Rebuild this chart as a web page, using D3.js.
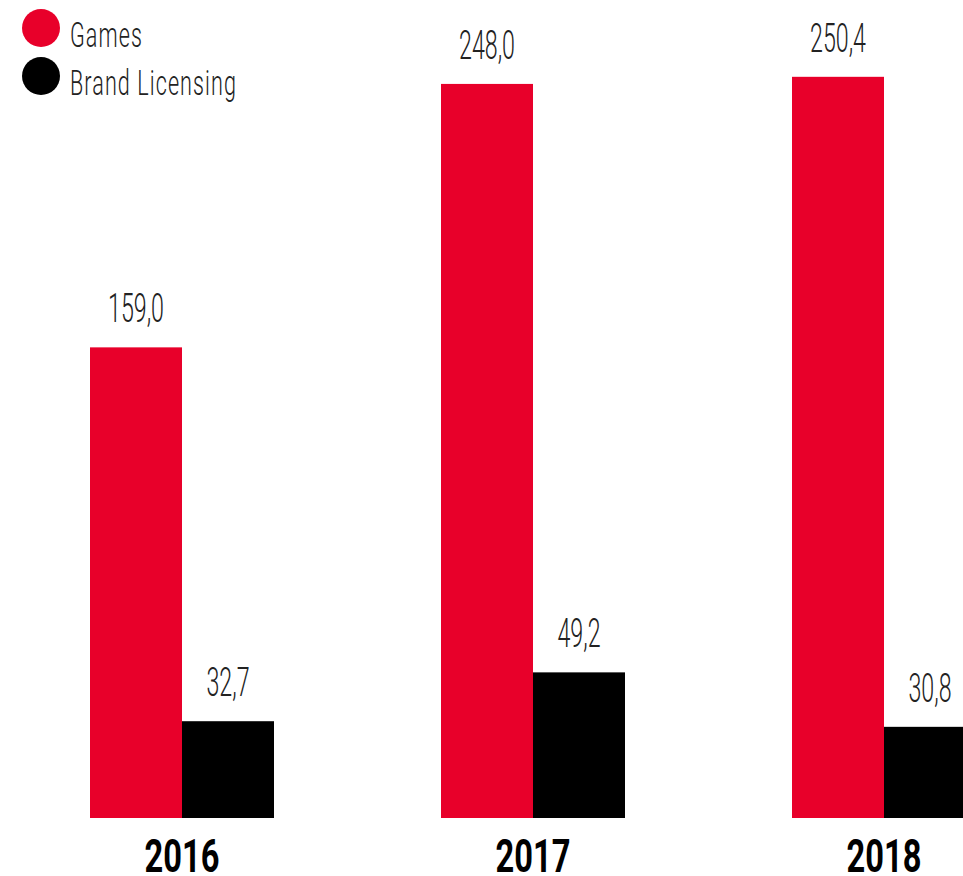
<!DOCTYPE html>
<html>
<head>
<meta charset="utf-8">
<script src="https://cdn.jsdelivr.net/npm/d3@7"></script>
<style>
	body { margin: 0; background: #fff; }
	svg { display: block; }
</style>
</head>
<body>
<svg id="chart" width="963" height="876"></svg>
<script>
const years = ["2016", "2017", "2018"];
const series = ["Games", "Brand Licensing"];
const games = [159.0, 248.0, 250.4];
const brandLicensing = [32.7, 49.2, 30.8];
const colors = ["#e8002a", "#000000"];

const fmt = v => d3.format(".1f")(v).replace(".", ",");

function drawChart() {
	const svg = d3.select("#chart");
	const baseline = 818;

	const x0 = d3.scaleBand()
		.domain(years)
		.range([90, 976])
		.paddingInner(1 - 184 / 351)
		.paddingOuter(0);

	const x1 = d3.scaleBand()
		.domain(series)
		.range([0, x0.bandwidth()]);

	const y = d3.scaleLinear()
		.domain([0, 250])
		.range([baseline, baseline - 740]);

	const color = d3.scaleOrdinal().domain(series).range(colors);

	const rows = years.map((yr, i) => ({
		year: yr,
		values: [
			{ key: series[0], value: games[i] },
			{ key: series[1], value: brandLicensing[i] }
		]
	}));

	const groups = svg.selectAll(".year")
		.data(rows)
		.enter()
		.append("g")
		.classed("year", true)
		.attr("transform", d => "translate(" + x0(d.year) + ",0)");

	groups.selectAll("rect")
		.data(d => d.values)
		.enter()
		.append("rect")
		.attr("x", d => x1(d.key))
		.attr("y", d => y(d.value))
		.attr("width", x1.bandwidth())
		.attr("height", d => baseline - y(d.value))
		.attr("fill", d => color(d.key));

	// value labels, condensed light
	groups.selectAll(".value")
		.data(d => d.values)
		.enter()
		.append("text")
		.classed("value", true)
		.attr("transform", d => "translate(" + (x1(d.key) + x1.bandwidth() / 2) + "," + (y(d.value) - 25) + ") scale(0.58,1)")
		.attr("text-anchor", "middle")
		.style("font-family", "Roboto")
		.style("font-weight", 300)
		.style("font-size", "40px")
		.style("fill", "#222")
		.text(d => fmt(d.value));

	// year labels
	groups.append("text")
		.attr("transform", "translate(" + (x0.bandwidth() / 2) + ",872) scale(0.71,1)")
		.attr("text-anchor", "middle")
		.style("font-family", "Roboto")
		.style("font-weight", 700)
		.style("font-size", "46px")
		.style("fill", "#000")
		.text(d => d.year);

	// legend
	const legend = svg.selectAll(".legend")
		.data(series)
		.enter()
		.append("g")
		.classed("legend", true)
		.attr("transform", (d, i) => "translate(0," + (i * 48) + ")");

	legend.append("circle")
		.attr("cx", 41)
		.attr("cy", 28)
		.attr("r", 19)
		.attr("fill", d => color(d));

	legend.append("text")
		.attr("transform", "translate(70,47) scale(0.6,1)")
		.style("font-family", "Roboto")
		.style("font-weight", 300)
		.style("font-size", "36px")
		.style("letter-spacing", "1.8px")
		.style("fill", "#222")
		.text(d => d);
}

drawChart();
</script>
</body>
</html>
